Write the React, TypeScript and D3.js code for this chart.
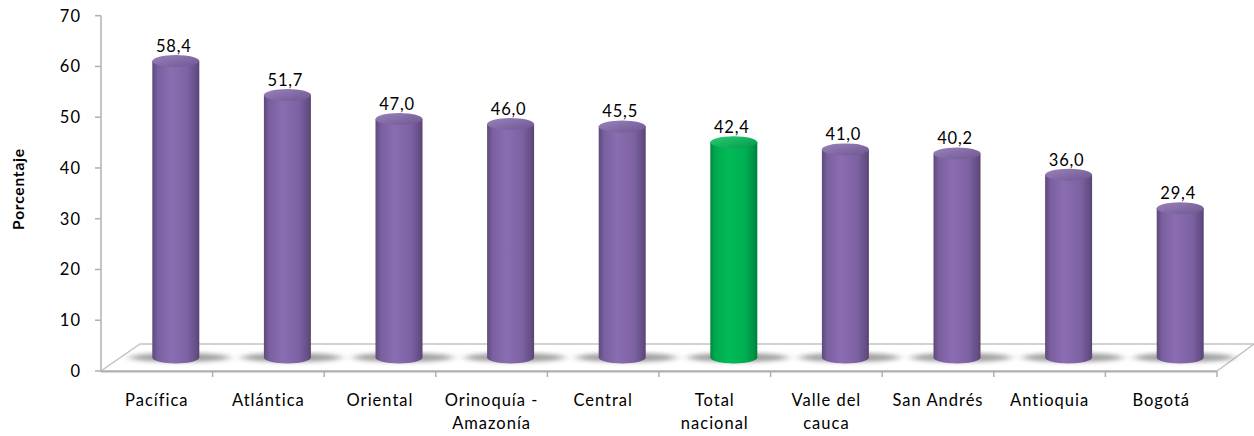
import React from "react";
import * as d3 from "d3";

const categories: string[][] = [
  ["Pacífica"],
  ["Atlántica"],
  ["Oriental"],
  ["Orinoquía -", "Amazonía"],
  ["Central"],
  ["Total", "nacional"],
  ["Valle del", "cauca"],
  ["San Andrés"],
  ["Antioquia"],
  ["Bogotá"],
];
const values: number[] = [58.4, 51.7, 47.0, 46.0, 45.5, 42.4, 41.0, 40.2, 36.0, 29.4];
const highlight: boolean[] = [false, false, false, false, false, true, false, false, false, false];
const yTicks: number[] = [0, 10, 20, 30, 40, 50, 60, 70];

const W = 1254;
const H = 436;
const left = 101;
const right = 1217;
const depthX = 37;
const depthY = -27;
const FONT = "Lato, 'Open Sans', sans-serif";

export default function App() {
  const y = d3.scaleLinear().domain([0, 70]).range([371, 15.7]);
  const x = d3
    .scaleBand<number>()
    .domain(values.map((_, i) => i))
    .range([left, right])
    .paddingInner(0)
    .paddingOuter(0);
  const bw = x.bandwidth();
  const rx = 23.5;
  const ry = 6;
  const midOff = { dx: depthX / 2 + 0.5, dy: depthY / 2 };
  const fmt = (v: number) => v.toFixed(1).replace(".", ",");
  const floor = [
    [left, y(0)],
    [right, y(0)],
    [right + depthX, y(0) + depthY],
    [left + depthX + 2, y(0) + depthY],
  ];

  return (
    <svg width={W} height={H} style={{ display: "block", position: "absolute", left: 0, top: 0 }}>
      <defs>
        <linearGradient id="purpleBody" x1="0" x2="1" y1="0" y2="0">
          <stop offset="0" stopColor="#5e4a7b" />
          <stop offset="0.12" stopColor="#7a60a0" />
          <stop offset="0.4" stopColor="#8b6db1" />
          <stop offset="0.75" stopColor="#7c62a2" />
          <stop offset="0.93" stopColor="#654f86" />
          <stop offset="1" stopColor="#574470" />
        </linearGradient>
        <linearGradient id="purpleTop" x1="0" x2="1" y1="0" y2="1">
          <stop offset="0" stopColor="#9a82bb" />
          <stop offset="1" stopColor="#6e5692" />
        </linearGradient>
        <linearGradient id="greenBody" x1="0" x2="1" y1="0" y2="0">
          <stop offset="0" stopColor="#008a3e" />
          <stop offset="0.12" stopColor="#00aa4f" />
          <stop offset="0.4" stopColor="#00bb57" />
          <stop offset="0.75" stopColor="#00ad50" />
          <stop offset="0.93" stopColor="#009344" />
          <stop offset="1" stopColor="#007d38" />
        </linearGradient>
        <linearGradient id="greenTop" x1="0" x2="1" y1="0" y2="1">
          <stop offset="0" stopColor="#2ccc72" />
          <stop offset="1" stopColor="#00994a" />
        </linearGradient>
        <filter id="shadowBlur" x="-50%" y="-200%" width="200%" height="500%">
          <feGaussianBlur stdDeviation="5 2" />
        </filter>
      </defs>

      {/* floor */}
      <polygon points={floor.map((p) => p.join(",")).join(" ")} fill="#ffffff" stroke="#c4c4c4" strokeWidth={1.5} />
      <line x1={left} x2={right} y1={y(0) + 0.5} y2={y(0) + 0.5} stroke="#b0b0b0" strokeWidth={2} />

      {/* shadows */}
      {values.map((v, i) => {
        const cx = (x(i) as number) + bw / 2 + midOff.dx;
        const cy = y(0) + midOff.dy;
        return (
          <ellipse key={"s" + i} cx={cx + 4} cy={cy} rx={50} ry={4.5} fill="#7a7a7a" opacity={0.7} filter="url(#shadowBlur)" />
        );
      })}

      {/* y axis */}
      <line x1={left} x2={left} y1={y(70)} y2={y(0)} stroke="#b0b0b0" strokeWidth={1.5} />
      {yTicks.map((t) => (
        <g key={"yt" + t}>
          <line x1={left - 6} x2={left} y1={y(t)} y2={y(t)} stroke="#b0b0b0" strokeWidth={1.5} />
          <text x={81} y={y(t)} dy="0.36em" textAnchor="end" fontFamily={FONT} fontSize={16.5} letterSpacing={1} fill="#000">
            {t}
          </text>
        </g>
      ))}
      <text
        transform={`translate(24,${189}) rotate(-90)`}
        textAnchor="middle"
        fontFamily={FONT}
        fontSize={15.5}
        letterSpacing={0.8}
        fontWeight="bold"
        fill="#000"
      >
        Porcentaje
      </text>

      {/* category ticks */}
      {values.map((_, i) => (
        <line key={"xt" + i} x1={(x(i) as number) + bw} x2={(x(i) as number) + bw} y1={y(0)} y2={y(0) + 6} stroke="#b0b0b0" strokeWidth={1.5} />
      ))}

      {/* bars */}
      {values.map((v, i) => {
        const cx = (x(i) as number) + bw / 2 + midOff.dx;
        const yb = y(0) + midOff.dy;
        const yt = y(v) + midOff.dy;
        const body = highlight[i] ? "url(#greenBody)" : "url(#purpleBody)";
        const top = highlight[i] ? "url(#greenTop)" : "url(#purpleTop)";
        const path = `M${cx - rx},${yt} L${cx - rx},${yb} A${rx},${ry} 0 0 0 ${cx + rx},${yb} L${cx + rx},${yt} Z`;
        return (
          <g key={"b" + i}>
            <path d={path} fill={body} />
            <ellipse cx={cx} cy={yt} rx={rx} ry={ry} fill={top} />
            <text x={cx - 2} y={yt - 15} dy="0.36em" textAnchor="middle" fontFamily={FONT} fontSize={16.5} letterSpacing={0.8} fill="#000">
              {fmt(v)}
            </text>
          </g>
        );
      })}

      {/* category labels */}
      {categories.map((lines, i) => (
        <text key={"c" + i} x={(x(i) as number) + bw / 2} y={400} textAnchor="middle" fontFamily={FONT} fontSize={16.5} letterSpacing={1} fill="#000">
          {lines.map((l, j) => (
            <tspan key={j} x={(x(i) as number) + bw / 2} dy={j === 0 ? "0.36em" : 23}>
              {l}
            </tspan>
          ))}
        </text>
      ))}
    </svg>
  );
}
